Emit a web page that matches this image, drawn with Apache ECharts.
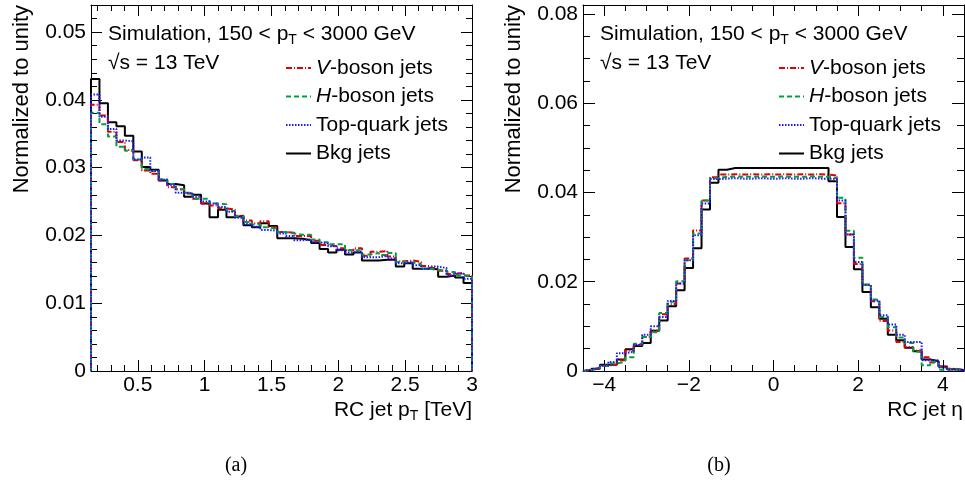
<!DOCTYPE html>
<html><head><meta charset="utf-8">
<script src="https://cdn.jsdelivr.net/npm/echarts@6/dist/echarts.min.js"></script>
<style>html,body{margin:0;padding:0;background:#fff}#c{width:965px;height:483px}</style>
</head><body><div id="c"></div>
<script>
// ---------- data ----------
const seriesNames = ['V-boson jets', 'H-boson jets', 'Top-quark jets', 'Bkg jets'];

// (a) RC jet pT [TeV], 45 bins from 0.15 to 3.0
const ptRange = [0.15, 3.0];
const ptV   = [0.0393,0.0377,0.0353,0.0338,0.0326,0.0311,0.0296,0.0291,0.0281,0.0271,0.0268,0.0262,0.0254,0.0247,0.0244,0.0240,0.0238,0.0229,0.0222,0.0218,0.0221,0.0212,0.0205,0.0204,0.0199,0.0199,0.0192,0.0186,0.0184,0.0181,0.0178,0.0181,0.0170,0.0176,0.0177,0.0169,0.0162,0.0163,0.0161,0.0155,0.0152,0.0148,0.0143,0.0145,0.0141];
const ptH   = [0.0381,0.0364,0.0346,0.0331,0.0325,0.0312,0.0298,0.0295,0.0283,0.0276,0.0268,0.0263,0.0254,0.0254,0.0247,0.0246,0.0236,0.0228,0.0220,0.0216,0.0212,0.0210,0.0205,0.0203,0.0201,0.0201,0.0194,0.0190,0.0187,0.0187,0.0178,0.0178,0.0172,0.0174,0.0171,0.0174,0.0161,0.0160,0.0158,0.0151,0.0149,0.0149,0.0146,0.0141,0.0140];
const ptTop = [0.0408,0.0375,0.0357,0.0340,0.0339,0.0312,0.0315,0.0295,0.0282,0.0274,0.0263,0.0262,0.0257,0.0250,0.0247,0.0242,0.0235,0.0226,0.0217,0.0213,0.0208,0.0207,0.0203,0.0199,0.0193,0.0194,0.0190,0.0188,0.0184,0.0178,0.0175,0.0176,0.0168,0.0168,0.0170,0.0166,0.0159,0.0161,0.0156,0.0151,0.0154,0.0152,0.0141,0.0144,0.0136];
const ptBkg = [0.0431,0.0395,0.0367,0.0361,0.0347,0.0324,0.0301,0.0297,0.0281,0.0276,0.0274,0.0257,0.0260,0.0247,0.0227,0.0238,0.0227,0.0229,0.0215,0.0212,0.0218,0.0214,0.0196,0.0196,0.0195,0.0193,0.0189,0.0180,0.0175,0.0179,0.0172,0.0175,0.0163,0.0163,0.0164,0.0164,0.0154,0.0159,0.0151,0.0151,0.0150,0.0139,0.0141,0.0138,0.0130];

// (b) RC jet eta, 45 bins from -4.5 to 4.5
const etaRange = [-4.5, 4.5];
const etaV   = [0.0003,0.0007,0.0012,0.0014,0.0024,0.0046,0.0058,0.0076,0.0091,0.0127,0.0150,0.0196,0.0252,0.0315,0.0382,0.0434,0.0440,0.0441,0.0440,0.0441,0.0440,0.0441,0.0440,0.0441,0.0440,0.0441,0.0440,0.0441,0.0440,0.0438,0.0376,0.0306,0.0240,0.0193,0.0156,0.0112,0.0091,0.0065,0.0054,0.0046,0.0031,0.0019,0.0010,0.0005,0.0002];
const etaH   = [0.0002,0.0006,0.0012,0.0017,0.0021,0.0031,0.0061,0.0076,0.0087,0.0130,0.0155,0.0201,0.0248,0.0308,0.0382,0.0432,0.0435,0.0436,0.0435,0.0435,0.0436,0.0435,0.0435,0.0436,0.0435,0.0435,0.0436,0.0435,0.0435,0.0432,0.0388,0.0314,0.0254,0.0193,0.0160,0.0121,0.0098,0.0075,0.0063,0.0043,0.0013,0.0021,0.0003,0.0004,0.0002];
const etaTop = [0.0003,0.0007,0.0012,0.0020,0.0040,0.0043,0.0059,0.0081,0.0100,0.0121,0.0157,0.0196,0.0248,0.0304,0.0375,0.0430,0.0431,0.0432,0.0431,0.0431,0.0432,0.0431,0.0431,0.0432,0.0431,0.0431,0.0432,0.0431,0.0431,0.0430,0.0382,0.0306,0.0244,0.0193,0.0158,0.0125,0.0104,0.0081,0.0065,0.0065,0.0024,0.0024,0.0008,0.0003,0.0002];
const etaBkg = [0.0000,0.0005,0.0014,0.0014,0.0026,0.0049,0.0056,0.0063,0.0090,0.0113,0.0145,0.0181,0.0231,0.0275,0.0362,0.0422,0.0451,0.0455,0.0455,0.0455,0.0455,0.0455,0.0455,0.0455,0.0455,0.0455,0.0455,0.0455,0.0455,0.0425,0.0345,0.0278,0.0228,0.0177,0.0143,0.0117,0.0081,0.0069,0.0052,0.0044,0.0026,0.0022,0.0010,0.0004,0.0002];

// tick labels (major ticks)
const ptTicks   = [0.5, 1, 1.5, 2, 2.5, 3];
const ptYTicks  = [0, 0.01, 0.02, 0.03, 0.04, 0.05];
const etaTicks  = [-4, -2, 0, 2, 4];
const etaYTicks = [0, 0.02, 0.04, 0.06, 0.08];
const ptYRange = [0, 0.054], etaYRange = [0, 0.082];

// ---------- helpers ----------
const FF = '"Liberation Sans", Arial, Helvetica, sans-serif';
const FS = 21;
const BLK = { color: '#000', width: 1 };
function steps(range, vals) {
  const w = (range[1] - range[0]) / vals.length;
  const pts = [[range[0], 0]];
  vals.forEach((v, i) => { pts.push([range[0] + i * w, v]); pts.push([range[0] + (i + 1) * w, v]); });
  pts.push([range[1], 0]);
  return pts;
}
const fmtY = v => v === 0 ? '0' : v.toFixed(2);
const fmtPt = v => String(+v.toFixed(1));
const fmtEta = v => v < 0 ? '\u2212' + Math.abs(v) : String(v);

function ax(o) {
  return Object.assign({ type: 'value', splitLine: { show: false }, axisPointer: { show: false },
    axisLine: { show: false, onZero: false, lineStyle: BLK }, axisTick: { show: false }, axisLabel: { show: false } }, o);
}
const LINE = { show: true, onZero: false, lineStyle: BLK };
function lab(vals, fmt, margin) {
  return { show: true, customValues: vals, formatter: fmt, fontSize: FS, fontFamily: FF, color: '#000',
    margin: margin, hideOverlap: false, showMinLabel: true, showMaxLabel: true };
}
// outward ticks on an axis pushed inward by its own tick length => ticks sit inside the frame
function tickAx(o, len) {
  return ax(Object.assign({ offset: -len, axisTick: { show: true, inside: false, length: len, lineStyle: BLK } }, o));
}

// plot-area geometry in pixels
const W = 965, H = 483, TOP = 5, BOT = 371;
const PA = { l: 91, r: 472 }, PB = { l: 583, r: 964 };
const px = (P, r, v) => P.l + (v - r[0]) / (r[1] - r[0]) * (P.r - P.l);
function g(l, r) { return { left: l, right: W - r, top: TOP, bottom: H - BOT, containLabel: false, outerBoundsMode: 'none' }; }
const grids = [
  g(PA.l, PA.r),                                       // 0: pT panel
  g(PB.l, PB.r),                                       // 1: eta panel
  g(px(PA, ptRange, 0.5), PA.r),                       // 2: pT major ticks, from 0.5
  g(px(PA, ptRange, 0.2), PA.r),                       // 3: pT minor ticks, from 0.2
  g(px(PB, etaRange, -4), px(PB, etaRange, 4))         // 4: eta major ticks, -4..4
];
const xAxes = [
  ax({ gridIndex: 0, position: 'bottom', min: ptRange[0], max: ptRange[1], axisLine: LINE, axisLabel: lab(ptTicks, fmtPt, 4) }),
  ax({ gridIndex: 0, position: 'top', min: ptRange[0], max: ptRange[1], axisLine: LINE }),
  ax({ gridIndex: 1, position: 'bottom', min: etaRange[0], max: etaRange[1], axisLine: LINE, axisLabel: lab(etaTicks, fmtEta, 4) }),
  ax({ gridIndex: 1, position: 'top', min: etaRange[0], max: etaRange[1], axisLine: LINE }),
  tickAx({ gridIndex: 2, position: 'bottom', min: 0.5, max: ptRange[1], interval: 0.5 }, 11),
  tickAx({ gridIndex: 2, position: 'top', min: 0.5, max: ptRange[1], interval: 0.5 }, 11),
  tickAx({ gridIndex: 3, position: 'bottom', min: 0.2, max: ptRange[1], interval: 0.1 }, 6),
  tickAx({ gridIndex: 3, position: 'top', min: 0.2, max: ptRange[1], interval: 0.1 }, 6),
  tickAx({ gridIndex: 4, position: 'bottom', min: -4, max: 4, interval: 2 }, 11),
  tickAx({ gridIndex: 4, position: 'top', min: -4, max: 4, interval: 2 }, 11),
  tickAx({ gridIndex: 1, position: 'bottom', min: etaRange[0], max: etaRange[1], interval: 0.5 }, 6),
  tickAx({ gridIndex: 1, position: 'top', min: etaRange[0], max: etaRange[1], interval: 0.5 }, 6)
];
const yAxes = [
  ax({ gridIndex: 0, position: 'left', min: ptYRange[0], max: ptYRange[1], axisLine: LINE, axisLabel: lab(ptYTicks, fmtY, 5) }),
  ax({ gridIndex: 0, position: 'right', min: ptYRange[0], max: ptYRange[1], axisLine: LINE }),
  ax({ gridIndex: 1, position: 'left', min: etaYRange[0], max: etaYRange[1], axisLine: LINE, axisLabel: lab(etaYTicks, fmtY, 5) }),
  ax({ gridIndex: 1, position: 'right', min: etaYRange[0], max: etaYRange[1], axisLine: LINE }),
  tickAx({ gridIndex: 0, position: 'left', min: 0, max: ptYRange[1], interval: 0.01 }, 11),
  tickAx({ gridIndex: 0, position: 'right', min: 0, max: ptYRange[1], interval: 0.01 }, 11),
  tickAx({ gridIndex: 0, position: 'left', min: 0, max: ptYRange[1], interval: 0.002 }, 6),
  tickAx({ gridIndex: 0, position: 'right', min: 0, max: ptYRange[1], interval: 0.002 }, 6),
  tickAx({ gridIndex: 1, position: 'left', min: 0, max: etaYRange[1], interval: 0.02 }, 12),
  tickAx({ gridIndex: 1, position: 'right', min: 0, max: etaYRange[1], interval: 0.02 }, 12),
  tickAx({ gridIndex: 1, position: 'left', min: 0, max: etaYRange[1], interval: 0.005 }, 7),
  tickAx({ gridIndex: 1, position: 'right', min: 0, max: etaYRange[1], interval: 0.005 }, 7),
  ax({ gridIndex: 2, show: false, min: 0, max: 1 }),
  ax({ gridIndex: 3, show: false, min: 0, max: 1 }),
  ax({ gridIndex: 4, show: false, min: 0, max: 1 })
];

const styles = {
  'V-boson jets':   { color: '#e00000', type: [6, 2, 1, 2] },
  'H-boson jets':   { color: '#00a040', type: [5, 3] },
  'Top-quark jets': { color: '#1a1aff', type: [1.5, 1.5] },
  'Bkg jets':       { color: '#000000', type: 'solid' }
};
function mkSeries(name, xi, yi, range, vals) {
  const s = styles[name];
  return { type: 'line', name: name, xAxisIndex: xi, yAxisIndex: yi, data: steps(range, vals),
    showSymbol: false, symbol: 'none', clip: true, silent: true, color: s.color,
    itemStyle: { color: s.color }, lineStyle: { color: s.color, width: 2, type: s.type } };
}
const series = [
  mkSeries('Bkg jets', 0, 0, ptRange, ptBkg),
  mkSeries('V-boson jets', 0, 0, ptRange, ptV),
  mkSeries('H-boson jets', 0, 0, ptRange, ptH),
  mkSeries('Top-quark jets', 0, 0, ptRange, ptTop),
  mkSeries('Bkg jets', 2, 2, etaRange, etaBkg),
  mkSeries('V-boson jets', 2, 2, etaRange, etaV),
  mkSeries('H-boson jets', 2, 2, etaRange, etaH),
  mkSeries('Top-quark jets', 2, 2, etaRange, etaTop)
];

function legendAt(left) {
  return { show: true, orient: 'vertical', left: left, top: 56, padding: 0, itemWidth: 25, itemHeight: 14, itemGap: 4.5,
    selectedMode: false, data: seriesNames, itemStyle: { opacity: 0 },
    formatter: n => n === 'V-boson jets' ? '{i|V}-boson jets' : (n === 'H-boson jets' ? '{i|H}-boson jets' : n),
    textStyle: { fontSize: FS, fontFamily: FF, color: '#000', lineHeight: 24,
      rich: { i: { fontStyle: 'italic', fontSize: FS, fontFamily: FF, color: '#000', lineHeight: 24 } } } };
}

const rich = {
  a: { fontSize: FS, fontFamily: FF, fill: '#000', lineHeight: 26 },
  s: { fontSize: 14, fontFamily: FF, fill: '#000', lineHeight: 14, verticalAlign: 'bottom' }
};
function txt(x, y, text, opts) {
  const st = Object.assign({ text: text, fontSize: FS, fontFamily: FF, fill: '#000',
    textAlign: 'left', align: 'left', textVerticalAlign: 'middle', verticalAlign: 'middle' }, opts || {});
  return { type: 'text', x: x, y: y, silent: true, style: st };
}
const SERIF = '"Liberation Serif", "Times New Roman", serif';
const graphic = [
  Object.assign(txt(22, 5, 'Normalized to unity', { fontSize: 22, textAlign: 'right', align: 'right' }), { rotation: Math.PI / 2 }),
  Object.assign(txt(514, 5, 'Normalized to unity', { fontSize: 22, textAlign: 'right', align: 'right' }), { rotation: Math.PI / 2 }),
  txt(108, 34, '{a|Simulation, 150 < p}{s|T}{a| < 3000 GeV}', { rich: rich }),
  txt(600, 34, '{a|Simulation, 150 < p}{s|T}{a| < 3000 GeV}', { rich: rich }),
  txt(108, 63, '\u221As = 13 TeV'),
  txt(600, 63, '\u221As = 13 TeV'),
  txt(472, 410, '{a|RC jet p}{s|T}{a| [TeV]}', { rich: rich, textAlign: 'right', align: 'right' }),
  txt(963, 410, 'RC jet \u03B7', { textAlign: 'right', align: 'right' }),
  txt(236, 466, '(a)', { fontFamily: SERIF, fontSize: 20, textAlign: 'center', align: 'center' }),
  txt(719, 466, '(b)', { fontFamily: SERIF, fontSize: 20, textAlign: 'center', align: 'center' })
];

const chart = echarts.init(document.getElementById('c'), null, { renderer: 'canvas' });
chart.setOption({
  animation: false,
  backgroundColor: '#fff',
  grid: grids,
  xAxis: xAxes,
  yAxis: yAxes,
  legend: [legendAt(285), legendAt(778)],
  series: series,
  graphic: graphic
});
</script></body></html>
